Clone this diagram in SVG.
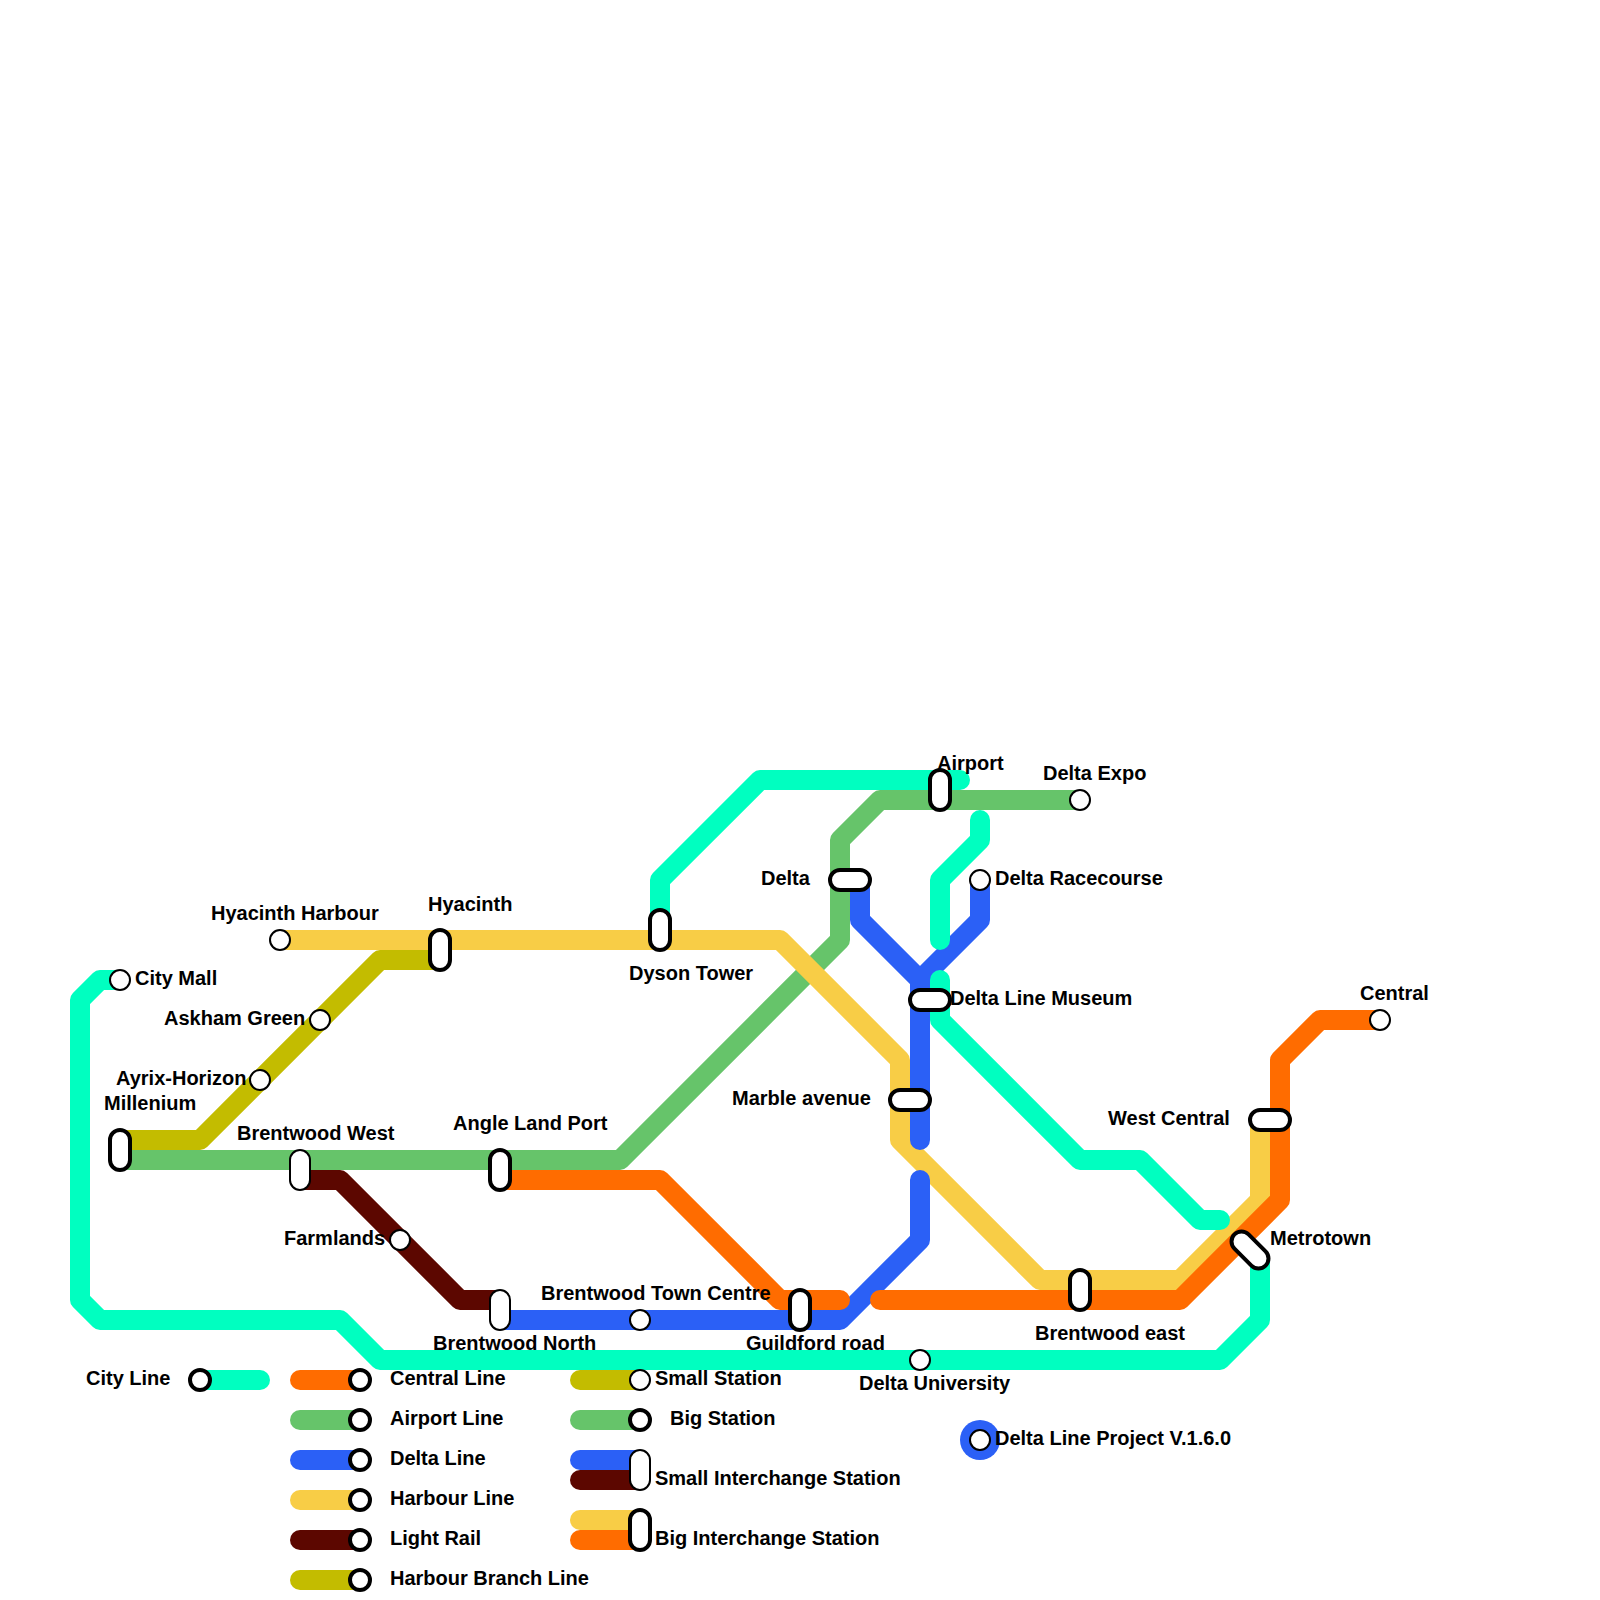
<svg xmlns="http://www.w3.org/2000/svg" width="1600" height="1600" viewBox="0 0 1600 1600">
<style>
text{font-family:"Liberation Sans",Arial,sans-serif;font-weight:700;font-size:20px;fill:#000}
.l{fill:none;stroke-width:20;stroke-linecap:round;stroke-linejoin:round}
.city{stroke:#00ffc0}.central{stroke:#ff6c00}.airport{stroke:#66c46a}.delta{stroke:#2b60f6}.harbour{stroke:#f8cd46}.rail{stroke:#5c0700}.branch{stroke:#c3bc00}
.s,.b{fill:#fff;stroke:#000}.s{stroke-width:2}.b{stroke-width:4}
</style>
<rect width="1600" height="1600" fill="#fff"/>
<g id="connectors">
<path class="l airport" d="M1080 800H880L840 840V940L620 1160H120"/>
<path class="l harbour" d="M280 940H780L900 1060V1140L1040 1280H1180L1260 1200V1120"/>
<path class="l delta" d="M860 880V920L920 980V1140M980 880V920L920 980M500 1320H840L920 1240V1180"/>
<path class="l central" d="M500 1180H660L780 1300H840M880 1300H1180L1280 1200V1060L1320 1020H1380"/>
<path class="l rail" d="M300 1180H340L460 1300H500"/>
<path class="l branch" d="M120 1140H200L380 960H440"/>
<path class="l city" d="M120 980H100L80 1000V1300L100 1320H340L380 1360H1220L1260 1320V1260M660 930V880L760 780H960M980 820V840L940 880V940M940 980V1020L1080 1160H1140L1200 1220H1220"/>
</g>
<g id="legend-lines">
<path class="l city" d="M200 1380H260"/>
<path class="l central" d="M300 1380H360"/>
<path class="l airport" d="M300 1420H360"/>
<path class="l delta" d="M300 1460H360"/>
<path class="l harbour" d="M300 1500H360"/>
<path class="l rail" d="M300 1540H360"/>
<path class="l branch" d="M300 1580H360"/>
<path class="l branch" d="M580 1380H640"/>
<path class="l airport" d="M580 1420H640"/>
<path class="l delta" d="M580 1460H640"/>
<path class="l rail" d="M580 1480H640"/>
<path class="l harbour" d="M580 1520H640"/>
<path class="l central" d="M580 1540H640"/>
</g>
<g id="hyacinth-harbour"><circle class="s" cx="280" cy="940" r="10"/><text x="211" y="920">Hyacinth Harbour</text></g>
<g id="hyacinth"><rect class="b" x="430" y="930" width="20" height="40" rx="10"/><text x="428" y="911">Hyacinth</text></g>
<g id="city-mall"><circle class="s" cx="120" cy="980" r="10"/><text x="135" y="985">City Mall</text></g>
<g id="askham-green"><circle class="s" cx="320" cy="1020" r="10"/><text x="164" y="1025">Askham Green</text></g>
<g id="ayrix-horizon"><circle class="s" cx="260" cy="1080" r="10"/><text x="116" y="1085">Ayrix-Horizon</text></g>
<g id="millenium"><rect class="b" x="110" y="1130" width="20" height="40" rx="10"/><text x="104" y="1110">Millenium</text></g>
<g id="brentwood-west"><rect class="s" x="290" y="1150" width="20" height="40" rx="10"/><text x="237" y="1140">Brentwood West</text></g>
<g id="angle-land-port"><rect class="b" x="490" y="1150" width="20" height="40" rx="10"/><text x="453" y="1130">Angle Land Port</text></g>
<g id="farmlands"><circle class="s" cx="400" cy="1240" r="10"/><text x="284" y="1245">Farmlands</text></g>
<g id="brentwood-north"><rect class="s" x="490" y="1290" width="20" height="40" rx="10"/><text x="433" y="1350">Brentwood North</text></g>
<g id="brentwood-town-centre"><circle class="s" cx="640" cy="1320" r="10"/><text x="541" y="1300">Brentwood Town Centre</text></g>
<g id="dyson-tower"><rect class="b" x="650" y="910" width="20" height="40" rx="10"/><text x="629" y="980">Dyson Tower</text></g>
<g id="guildford-road"><rect class="b" x="790" y="1290" width="20" height="40" rx="10"/><text x="746" y="1350">Guildford road</text></g>
<g id="delta-station"><rect class="b" x="830" y="870" width="40" height="20" rx="10"/><text x="761" y="885">Delta</text></g>
<g id="airport"><rect class="b" x="930" y="770" width="20" height="40" rx="10"/><text x="937" y="770">Airport</text></g>
<g id="delta-expo"><circle class="s" cx="1080" cy="800" r="10"/><text x="1043" y="780">Delta Expo</text></g>
<g id="delta-racecourse"><circle class="s" cx="980" cy="880" r="10"/><text x="995" y="885">Delta Racecourse</text></g>
<g id="delta-line-museum"><rect class="b" x="910" y="990" width="40" height="20" rx="10"/><text x="950" y="1005">Delta Line Museum</text></g>
<g id="marble-avenue"><rect class="b" x="890" y="1090" width="40" height="20" rx="10"/><text x="732" y="1105">Marble avenue</text></g>
<g id="west-central"><rect class="b" x="1250" y="1110" width="40" height="20" rx="10"/><text x="1108" y="1125">West Central</text></g>
<g id="metrotown"><rect class="b" x="1228" y="1240" width="44" height="20" rx="10" transform="rotate(45 1250 1250)"/><text x="1270" y="1245">Metrotown</text></g>
<g id="central"><circle class="s" cx="1380" cy="1020" r="10"/><text x="1360" y="1000">Central</text></g>
<g id="brentwood-east"><rect class="b" x="1070" y="1270" width="20" height="40" rx="10"/><text x="1035" y="1340">Brentwood east</text></g>
<g id="delta-university"><circle class="s" cx="920" cy="1360" r="10"/><text x="859" y="1390">Delta University</text></g>
<g id="legend-city"><circle class="b" cx="200" cy="1380" r="10"/><text x="86" y="1385">City Line</text></g>
<g id="legend-central"><circle class="b" cx="360" cy="1380" r="10"/><text x="390" y="1385">Central Line</text></g>
<g id="legend-airport"><circle class="b" cx="360" cy="1420" r="10"/><text x="390" y="1425">Airport Line</text></g>
<g id="legend-delta"><circle class="b" cx="360" cy="1460" r="10"/><text x="390" y="1465">Delta Line</text></g>
<g id="legend-harbour"><circle class="b" cx="360" cy="1500" r="10"/><text x="390" y="1505">Harbour Line</text></g>
<g id="legend-rail"><circle class="b" cx="360" cy="1540" r="10"/><text x="390" y="1545">Light Rail</text></g>
<g id="legend-branch"><circle class="b" cx="360" cy="1580" r="10"/><text x="390" y="1585">Harbour Branch Line</text></g>
<g id="legend-small"><circle class="s" cx="640" cy="1380" r="10"/><text x="655" y="1385">Small Station</text></g>
<g id="legend-big"><circle class="b" cx="640" cy="1420" r="10"/><text x="670" y="1425">Big Station</text></g>
<g id="legend-small-interchange"><rect class="s" x="630" y="1450" width="20" height="40" rx="10"/><text x="655" y="1485">Small Interchange Station</text></g>
<g id="legend-big-interchange"><rect class="b" x="630" y="1510" width="20" height="40" rx="10"/><text x="655" y="1545">Big Interchange Station</text></g>
<g id="project-badge"><circle cx="980" cy="1440" r="20" fill="#2b60f6"/><circle class="s" cx="980" cy="1440" r="10"/><text x="995" y="1445">Delta Line Project V.1.6.0</text></g>
</svg>
